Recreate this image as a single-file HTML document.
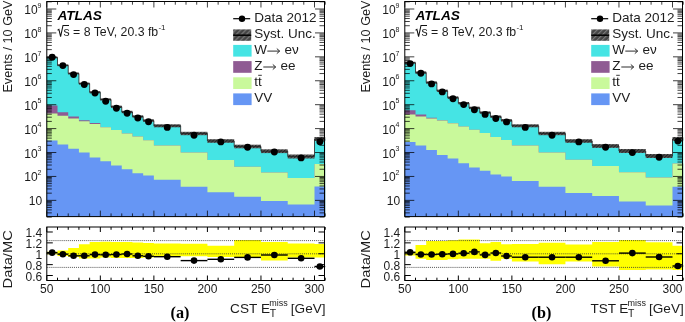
<!DOCTYPE html>
<html><head><meta charset="utf-8"><style>
html,body{margin:0;padding:0;background:#fff;}
svg{display:block;filter:blur(0.3px);}
text{font-family:"Liberation Sans",sans-serif;fill:#1c1c1c;}
.lab{font-size:12px;}
.sup{font-size:7px;}
.tit{font-size:13.6px;}
.ytit{font-size:12.65px;}
.rtit{font-size:14.8px;}
.ss{font-size:9px;}
.ssT{font-size:10.4px;}
.ss2{font-size:8px;}
.leg{font-size:13.5px;}
.leg2{font-size:12.3px;}
.atl{font-size:13.7px;font-weight:bold;font-style:italic;fill:#000;}
.pl{font-family:"Liberation Serif",serif;font-size:16.2px;font-weight:bold;fill:#000;}
</style></head><body>
<svg width="685" height="322" viewBox="0 0 685 322">
<defs>
<pattern id="hatch" patternUnits="userSpaceOnUse" width="2.4" height="2.4" patternTransform="rotate(-45)">
<rect width="2.4" height="2.4" fill="#666"/><rect width="2.4" height="1.1" fill="#2a2a2a"/>
</pattern>
<pattern id="hatchW" patternUnits="userSpaceOnUse" width="3" height="3" patternTransform="rotate(-45)">
<rect width="3" height="3" fill="#8a8a8a"/><rect width="3" height="1.1" fill="#3a3a3a"/>
</pattern>
<pattern id="hatchL" patternUnits="userSpaceOnUse" width="3.6" height="3.6" patternTransform="rotate(-45)">
<rect width="3.6" height="3.6" fill="#444"/><rect width="3.6" height="1.2" fill="#7a7a7a"/>
</pattern>
</defs>
<rect width="685" height="322" fill="#fff"/>
<polygon points="46.8,216.6 46.8,57.5 57.51,57.5 57.51,65.3 68.22,65.3 68.22,73.5 78.92,73.5 78.92,83.6 89.63,83.6 89.63,92.3 100.34,92.3 100.34,99.5 111.05,99.5 111.05,106.8 121.76,106.8 121.76,112 132.46,112 132.46,116.5 143.17,116.5 143.17,120.6 153.88,120.6 153.88,125.8 180.65,125.8 180.65,133.5 207.42,133.5 207.42,141 234.19,141 234.19,146.5 260.96,146.5 260.96,151.2 287.73,151.2 287.73,156.5 314.5,156.5 314.5,139 325.21,139 325.21,216.6" fill="#45e4e4"/>
<polygon points="46.8,216.6 46.8,105.5 57.51,105.5 57.51,112.2 68.22,112.2 68.22,116.6 78.92,116.6 78.92,120.2 89.63,120.2 89.63,123.1 100.34,123.1 100.34,127.2 111.05,127.2 111.05,129.9 121.76,129.9 121.76,133.6 132.46,133.6 132.46,136.4 143.17,136.4 143.17,140.2 153.88,140.2 153.88,145.6 180.65,145.6 180.65,152.5 207.42,152.5 207.42,159.9 234.19,159.9 234.19,166.8 260.96,166.8 260.96,172.4 287.73,172.4 287.73,178 314.5,178 314.5,164 325.21,164 325.21,216.6" fill="#8f5b93"/>
<polygon points="46.8,216.6 46.8,113.6 57.51,113.6 57.51,115.8 68.22,115.8 68.22,118.4 78.92,118.4 78.92,121.2 89.63,121.2 89.63,124 100.34,124 100.34,127.2 111.05,127.2 111.05,129.9 121.76,129.9 121.76,133.6 132.46,133.6 132.46,136.4 143.17,136.4 143.17,140.2 153.88,140.2 153.88,145.6 180.65,145.6 180.65,152.5 207.42,152.5 207.42,159.9 234.19,159.9 234.19,166.8 260.96,166.8 260.96,172.4 287.73,172.4 287.73,178 314.5,178 314.5,164 325.21,164 325.21,216.6" fill="#c9f99b"/>
<polygon points="46.8,216.6 46.8,140.6 57.51,140.6 57.51,144.4 68.22,144.4 68.22,148.7 78.92,148.7 78.92,152.6 89.63,152.6 89.63,157.6 100.34,157.6 100.34,161.3 111.05,161.3 111.05,165.5 121.76,165.5 121.76,169.2 132.46,169.2 132.46,173.2 143.17,173.2 143.17,175.6 153.88,175.6 153.88,179.8 180.65,179.8 180.65,186.8 207.42,186.8 207.42,192.3 234.19,192.3 234.19,196.8 260.96,196.8 260.96,201 287.73,201 287.73,204.6 314.5,204.6 314.5,186.6 325.21,186.6 325.21,216.6" fill="#6696f4"/>
<rect x="46.8" y="56.6" width="10.71" height="1.8" fill="url(#hatch)"/>
<rect x="57.51" y="64.4" width="10.71" height="1.8" fill="url(#hatch)"/>
<rect x="68.22" y="72.5" width="10.71" height="2" fill="url(#hatch)"/>
<rect x="78.92" y="82.6" width="10.71" height="2" fill="url(#hatch)"/>
<rect x="89.63" y="91.2" width="10.71" height="2.2" fill="url(#hatch)"/>
<rect x="100.34" y="98.4" width="10.71" height="2.2" fill="url(#hatch)"/>
<rect x="111.05" y="105.6" width="10.71" height="2.4" fill="url(#hatch)"/>
<rect x="121.76" y="110.8" width="10.71" height="2.4" fill="url(#hatch)"/>
<rect x="132.46" y="115.3" width="10.71" height="2.4" fill="url(#hatch)"/>
<rect x="143.17" y="119.3" width="10.71" height="2.6" fill="url(#hatch)"/>
<rect x="153.88" y="124.3" width="26.77" height="3" fill="url(#hatch)"/>
<rect x="180.65" y="131.8" width="26.77" height="3.4" fill="url(#hatch)"/>
<rect x="207.42" y="139.2" width="26.77" height="3.6" fill="url(#hatch)"/>
<rect x="234.19" y="144.7" width="26.77" height="3.6" fill="url(#hatch)"/>
<rect x="260.96" y="149.3" width="26.77" height="3.8" fill="url(#hatch)"/>
<rect x="287.73" y="154.5" width="26.77" height="4" fill="url(#hatch)"/>
<rect x="314.5" y="137" width="10.71" height="4" fill="url(#hatch)"/>
<polyline points="46.8,57.5 57.51,57.5 57.51,65.3 68.22,65.3 68.22,73.5 78.92,73.5 78.92,83.6 89.63,83.6 89.63,92.3 100.34,92.3 100.34,99.5 111.05,99.5 111.05,106.8 121.76,106.8 121.76,112 132.46,112 132.46,116.5 143.17,116.5 143.17,120.6 153.88,120.6 153.88,125.8 180.65,125.8 180.65,133.5 207.42,133.5 207.42,141 234.19,141 234.19,146.5 260.96,146.5 260.96,151.2 287.73,151.2 287.73,156.5 314.5,156.5 314.5,139 325.21,139" fill="none" stroke="#222" stroke-width="0.8"/>
<circle cx="52.15" cy="57.3" r="3.45" fill="#000"/>
<circle cx="62.86" cy="65.6" r="3.45" fill="#000"/>
<circle cx="73.57" cy="74.6" r="3.45" fill="#000"/>
<circle cx="84.28" cy="84.5" r="3.45" fill="#000"/>
<circle cx="94.99" cy="93" r="3.45" fill="#000"/>
<circle cx="105.69" cy="101.3" r="3.45" fill="#000"/>
<circle cx="116.4" cy="108.2" r="3.45" fill="#000"/>
<circle cx="127.11" cy="113.2" r="3.45" fill="#000"/>
<circle cx="137.82" cy="118" r="3.45" fill="#000"/>
<circle cx="148.53" cy="121.8" r="3.45" fill="#000"/>
<circle cx="167.26" cy="127.4" r="3.45" fill="#000"/>
<circle cx="194.03" cy="135.2" r="3.45" fill="#000"/>
<circle cx="220.81" cy="141.9" r="3.45" fill="#000"/>
<circle cx="247.57" cy="147.3" r="3.45" fill="#000"/>
<circle cx="274.35" cy="152" r="3.45" fill="#000"/>
<circle cx="301.12" cy="157.9" r="3.45" fill="#000"/>
<circle cx="319.85" cy="141.7" r="3.45" fill="#000"/>
<rect x="46.8" y="1.5" width="277.7" height="215.1" fill="none" stroke="#000" stroke-width="1"/>
<path d="M46.8 216.6v-6M46.8 1.5v6M57.51 216.6v-3.2M57.51 1.5v3.2M68.22 216.6v-3.2M68.22 1.5v3.2M78.92 216.6v-3.2M78.92 1.5v3.2M89.63 216.6v-3.2M89.63 1.5v3.2M100.34 216.6v-6M100.34 1.5v6M111.05 216.6v-3.2M111.05 1.5v3.2M121.76 216.6v-3.2M121.76 1.5v3.2M132.46 216.6v-3.2M132.46 1.5v3.2M143.17 216.6v-3.2M143.17 1.5v3.2M153.88 216.6v-6M153.88 1.5v6M164.59 216.6v-3.2M164.59 1.5v3.2M175.3 216.6v-3.2M175.3 1.5v3.2M186 216.6v-3.2M186 1.5v3.2M196.71 216.6v-3.2M196.71 1.5v3.2M207.42 216.6v-6M207.42 1.5v6M218.13 216.6v-3.2M218.13 1.5v3.2M228.84 216.6v-3.2M228.84 1.5v3.2M239.54 216.6v-3.2M239.54 1.5v3.2M250.25 216.6v-3.2M250.25 1.5v3.2M260.96 216.6v-6M260.96 1.5v6M271.67 216.6v-3.2M271.67 1.5v3.2M282.38 216.6v-3.2M282.38 1.5v3.2M293.08 216.6v-3.2M293.08 1.5v3.2M303.79 216.6v-3.2M303.79 1.5v3.2M314.5 216.6v-6M314.5 1.5v6M325.21 216.6v-3.2M325.21 1.5v3.2M46.8 217.08h5M324.5 217.08h-5M46.8 212.87h5M324.5 212.87h-5M46.8 209.88h5M324.5 209.88h-5M46.8 207.56h5M324.5 207.56h-5M46.8 205.67h5M324.5 205.67h-5M46.8 204.07h5M324.5 204.07h-5M46.8 202.68h5M324.5 202.68h-5M46.8 201.45h5M324.5 201.45h-5M46.8 200.36h9.5M324.5 200.36h-9.5M46.8 193.16h5M324.5 193.16h-5M46.8 188.95h5M324.5 188.95h-5M46.8 185.96h5M324.5 185.96h-5M46.8 183.64h5M324.5 183.64h-5M46.8 181.75h5M324.5 181.75h-5M46.8 180.15h5M324.5 180.15h-5M46.8 178.76h5M324.5 178.76h-5M46.8 177.53h5M324.5 177.53h-5M46.8 176.44h9.5M324.5 176.44h-9.5M46.8 169.24h5M324.5 169.24h-5M46.8 165.03h5M324.5 165.03h-5M46.8 162.04h5M324.5 162.04h-5M46.8 159.72h5M324.5 159.72h-5M46.8 157.83h5M324.5 157.83h-5M46.8 156.23h5M324.5 156.23h-5M46.8 154.84h5M324.5 154.84h-5M46.8 153.61h5M324.5 153.61h-5M46.8 152.52h9.5M324.5 152.52h-9.5M46.8 145.32h5M324.5 145.32h-5M46.8 141.11h5M324.5 141.11h-5M46.8 138.12h5M324.5 138.12h-5M46.8 135.8h5M324.5 135.8h-5M46.8 133.91h5M324.5 133.91h-5M46.8 132.31h5M324.5 132.31h-5M46.8 130.92h5M324.5 130.92h-5M46.8 129.69h5M324.5 129.69h-5M46.8 128.6h9.5M324.5 128.6h-9.5M46.8 121.4h5M324.5 121.4h-5M46.8 117.19h5M324.5 117.19h-5M46.8 114.2h5M324.5 114.2h-5M46.8 111.88h5M324.5 111.88h-5M46.8 109.99h5M324.5 109.99h-5M46.8 108.39h5M324.5 108.39h-5M46.8 107h5M324.5 107h-5M46.8 105.77h5M324.5 105.77h-5M46.8 104.68h9.5M324.5 104.68h-9.5M46.8 97.48h5M324.5 97.48h-5M46.8 93.27h5M324.5 93.27h-5M46.8 90.28h5M324.5 90.28h-5M46.8 87.96h5M324.5 87.96h-5M46.8 86.07h5M324.5 86.07h-5M46.8 84.47h5M324.5 84.47h-5M46.8 83.08h5M324.5 83.08h-5M46.8 81.85h5M324.5 81.85h-5M46.8 80.76h9.5M324.5 80.76h-9.5M46.8 73.56h5M324.5 73.56h-5M46.8 69.35h5M324.5 69.35h-5M46.8 66.36h5M324.5 66.36h-5M46.8 64.04h5M324.5 64.04h-5M46.8 62.15h5M324.5 62.15h-5M46.8 60.55h5M324.5 60.55h-5M46.8 59.16h5M324.5 59.16h-5M46.8 57.93h5M324.5 57.93h-5M46.8 56.84h9.5M324.5 56.84h-9.5M46.8 49.64h5M324.5 49.64h-5M46.8 45.43h5M324.5 45.43h-5M46.8 42.44h5M324.5 42.44h-5M46.8 40.12h5M324.5 40.12h-5M46.8 38.23h5M324.5 38.23h-5M46.8 36.63h5M324.5 36.63h-5M46.8 35.24h5M324.5 35.24h-5M46.8 34.01h5M324.5 34.01h-5M46.8 32.92h9.5M324.5 32.92h-9.5M46.8 25.72h5M324.5 25.72h-5M46.8 21.51h5M324.5 21.51h-5M46.8 18.52h5M324.5 18.52h-5M46.8 16.2h5M324.5 16.2h-5M46.8 14.31h5M324.5 14.31h-5M46.8 12.71h5M324.5 12.71h-5M46.8 11.32h5M324.5 11.32h-5M46.8 10.09h5M324.5 10.09h-5M46.8 9h9.5M324.5 9h-9.5M46.8 1.8h5M324.5 1.8h-5" stroke="#000" stroke-width="0.75" fill="none"/>
<polygon points="46.8,251.8 57.51,251.8 57.51,250.4 68.22,250.4 68.22,247.9 78.92,247.9 78.92,244.2 89.63,244.2 89.63,242 100.34,242 100.34,241.8 111.05,241.8 111.05,242 121.76,242 121.76,242 132.46,242 132.46,242.5 143.17,242.5 143.17,243 153.88,243 153.88,243.6 180.65,243.6 180.65,243.8 207.42,243.8 207.42,245.8 234.19,245.8 234.19,240.1 260.96,240.1 260.96,241.9 287.73,241.9 287.73,243.6 314.5,243.6 314.5,244.1 325.21,244.1 325.21,257.6 314.5,257.6 314.5,257.6 287.73,257.6 287.73,260.6 260.96,260.6 260.96,257 234.19,257 234.19,257 207.42,257 207.42,256.3 180.65,256.3 180.65,256.3 153.88,256.3 153.88,257.6 143.17,257.6 143.17,257.9 132.46,257.9 132.46,257.9 121.76,257.9 121.76,257.9 111.05,257.9 111.05,257.6 100.34,257.6 100.34,258.4 89.63,258.4 89.63,258.4 78.92,258.4 78.92,257 68.22,257 68.22,256 57.51,256 57.51,254.2 46.8,254.2" fill="#ffff00"/>
<line x1="46.8" y1="240.6" x2="324.5" y2="240.6" stroke="#333" stroke-width="0.9" stroke-dasharray="0.9 1.05"/>
<line x1="46.8" y1="253.8" x2="324.5" y2="253.8" stroke="#333" stroke-width="0.9" stroke-dasharray="0.9 1.05"/>
<line x1="46.8" y1="267.4" x2="324.5" y2="267.4" stroke="#333" stroke-width="0.9" stroke-dasharray="0.9 1.05"/>
<line x1="46.8" y1="252.6" x2="57.51" y2="252.6" stroke="#000" stroke-width="1.4"/>
<circle cx="52.15" cy="252.6" r="3.3" fill="#000"/>
<line x1="57.51" y1="254.2" x2="68.22" y2="254.2" stroke="#000" stroke-width="1.4"/>
<circle cx="62.86" cy="254.2" r="3.3" fill="#000"/>
<line x1="68.22" y1="255.8" x2="78.92" y2="255.8" stroke="#000" stroke-width="1.4"/>
<circle cx="73.57" cy="255.8" r="3.3" fill="#000"/>
<line x1="78.92" y1="255.8" x2="89.63" y2="255.8" stroke="#000" stroke-width="1.4"/>
<circle cx="84.28" cy="255.8" r="3.3" fill="#000"/>
<line x1="89.63" y1="254.6" x2="100.34" y2="254.6" stroke="#000" stroke-width="1.4"/>
<circle cx="94.99" cy="254.6" r="3.3" fill="#000"/>
<line x1="100.34" y1="254.8" x2="111.05" y2="254.8" stroke="#000" stroke-width="1.4"/>
<circle cx="105.69" cy="254.8" r="3.3" fill="#000"/>
<line x1="111.05" y1="254.5" x2="121.76" y2="254.5" stroke="#000" stroke-width="1.4"/>
<circle cx="116.4" cy="254.5" r="3.3" fill="#000"/>
<line x1="121.76" y1="254" x2="132.46" y2="254" stroke="#000" stroke-width="1.4"/>
<circle cx="127.11" cy="254" r="3.3" fill="#000"/>
<line x1="132.46" y1="255.8" x2="143.17" y2="255.8" stroke="#000" stroke-width="1.4"/>
<circle cx="137.82" cy="255.8" r="3.3" fill="#000"/>
<line x1="143.17" y1="256.3" x2="153.88" y2="256.3" stroke="#000" stroke-width="1.4"/>
<circle cx="148.53" cy="256.3" r="3.3" fill="#000"/>
<line x1="153.88" y1="256.7" x2="180.65" y2="256.7" stroke="#000" stroke-width="1.4"/>
<circle cx="167.26" cy="256.7" r="3.3" fill="#000"/>
<line x1="180.65" y1="260.6" x2="207.42" y2="260.6" stroke="#000" stroke-width="1.4"/>
<circle cx="194.03" cy="260.6" r="3.3" fill="#000"/>
<line x1="207.42" y1="259.3" x2="234.19" y2="259.3" stroke="#000" stroke-width="1.4"/>
<circle cx="220.81" cy="259.3" r="3.3" fill="#000"/>
<line x1="234.19" y1="257.4" x2="260.96" y2="257.4" stroke="#000" stroke-width="1.4"/>
<circle cx="247.57" cy="257.4" r="3.3" fill="#000"/>
<line x1="260.96" y1="255" x2="287.73" y2="255" stroke="#000" stroke-width="1.4"/>
<circle cx="274.35" cy="255" r="3.3" fill="#000"/>
<line x1="287.73" y1="258.3" x2="314.5" y2="258.3" stroke="#000" stroke-width="1.4"/>
<circle cx="301.12" cy="258.3" r="3.3" fill="#000"/>
<line x1="314.5" y1="266.5" x2="325.21" y2="266.5" stroke="#000" stroke-width="1.4"/>
<circle cx="319.85" cy="266.5" r="3.3" fill="#000"/>
<path d="M46.8 280.5v-5M46.8 227v5M57.51 280.5v-2.8M57.51 227v2.8M68.22 280.5v-2.8M68.22 227v2.8M78.92 280.5v-2.8M78.92 227v2.8M89.63 280.5v-2.8M89.63 227v2.8M100.34 280.5v-5M100.34 227v5M111.05 280.5v-2.8M111.05 227v2.8M121.76 280.5v-2.8M121.76 227v2.8M132.46 280.5v-2.8M132.46 227v2.8M143.17 280.5v-2.8M143.17 227v2.8M153.88 280.5v-5M153.88 227v5M164.59 280.5v-2.8M164.59 227v2.8M175.3 280.5v-2.8M175.3 227v2.8M186 280.5v-2.8M186 227v2.8M196.71 280.5v-2.8M196.71 227v2.8M207.42 280.5v-5M207.42 227v5M218.13 280.5v-2.8M218.13 227v2.8M228.84 280.5v-2.8M228.84 227v2.8M239.54 280.5v-2.8M239.54 227v2.8M250.25 280.5v-2.8M250.25 227v2.8M260.96 280.5v-5M260.96 227v5M271.67 280.5v-2.8M271.67 227v2.8M282.38 280.5v-2.8M282.38 227v2.8M293.08 280.5v-2.8M293.08 227v2.8M303.79 280.5v-2.8M303.79 227v2.8M314.5 280.5v-5M314.5 227v5M325.21 280.5v-2.8M325.21 227v2.8M46.8 275.51h6M324.5 275.51h-6M46.8 264.63h6M324.5 264.63h-6M46.8 253.75h6M324.5 253.75h-6M46.8 242.87h6M324.5 242.87h-6M46.8 231.99h6M324.5 231.99h-6" stroke="#000" stroke-width="1" fill="none"/>
<rect x="46.8" y="227" width="277.7" height="53.5" fill="none" stroke="#000" stroke-width="1"/>
<text x="42.2" y="204.96" text-anchor="end" class="lab">10</text>
<text x="37.6" y="181.44" text-anchor="end" class="lab">10</text>
<text x="37.5" y="175.14" class="sup">2</text>
<text x="37.6" y="157.52" text-anchor="end" class="lab">10</text>
<text x="37.5" y="151.22" class="sup">3</text>
<text x="37.6" y="133.6" text-anchor="end" class="lab">10</text>
<text x="37.5" y="127.3" class="sup">4</text>
<text x="37.6" y="109.68" text-anchor="end" class="lab">10</text>
<text x="37.5" y="103.38" class="sup">5</text>
<text x="37.6" y="85.76" text-anchor="end" class="lab">10</text>
<text x="37.5" y="79.46" class="sup">6</text>
<text x="37.6" y="61.84" text-anchor="end" class="lab">10</text>
<text x="37.5" y="55.54" class="sup">7</text>
<text x="37.6" y="37.92" text-anchor="end" class="lab">10</text>
<text x="37.5" y="31.62" class="sup">8</text>
<text x="37.6" y="14" text-anchor="end" class="lab">10</text>
<text x="37.5" y="7.7" class="sup">9</text>
<text x="42.2" y="236.99" text-anchor="end" class="lab">1.4</text>
<text x="42.2" y="247.87" text-anchor="end" class="lab">1.2</text>
<text x="42.2" y="258.75" text-anchor="end" class="lab">1</text>
<text x="42.2" y="269.63" text-anchor="end" class="lab">0.8</text>
<text x="42.2" y="280.51" text-anchor="end" class="lab">0.6</text>
<text x="46.8" y="293" text-anchor="middle" class="lab">50</text>
<text x="100.34" y="293" text-anchor="middle" class="lab">100</text>
<text x="153.88" y="293" text-anchor="middle" class="lab">150</text>
<text x="207.42" y="293" text-anchor="middle" class="lab">200</text>
<text x="260.96" y="293" text-anchor="middle" class="lab">250</text>
<text x="314.5" y="293" text-anchor="middle" class="lab">300</text>
<text transform="translate(11.7,92.6) rotate(-90)" class="ytit">Events / 10 GeV</text>
<text transform="translate(12.3,288.4) rotate(-90) scale(1,0.92)" class="rtit">Data/MC</text>
<text x="230.1" y="312.5" class="tit">CST</text>
<text x="261" y="312.5" class="tit">E</text>
<text x="269.8" y="316.6" class="ssT">T</text>
<text x="269.3" y="306.0" class="ss">miss</text>
<text x="290.8" y="312.5" class="tit">[GeV]</text>
<text x="170.6" y="317.5" class="pl">(a)</text>
<text x="57.4" y="19.8" class="atl">ATLAS</text>
<path d="M57.6 30.2 L58.9 29.4 L60.6 36.6 L63 25.4 L69 25.4" fill="none" stroke="#111" stroke-width="1.05" stroke-linejoin="miter"/>
<text x="63.5" y="36.2" class="leg2">s = 8 TeV, 20.3 fb</text>
<text x="158.4" y="30.0" class="ss2">-1</text>
<line x1="233.2" y1="18.7" x2="250.2" y2="18.7" stroke="#000" stroke-width="1.2"/>
<circle cx="242" cy="18.7" r="3.2" fill="#000"/>
<rect x="233.2" y="29.4" width="18" height="11.4" fill="url(#hatchL)"/>
<line x1="233.2" y1="35.2" x2="251.2" y2="35.2" stroke="#000" stroke-width="1.5"/>
<rect x="233.2" y="44.9" width="18.4" height="11.7" fill="#45e4e4"/>
<rect x="233.2" y="61.1" width="18.4" height="11.7" fill="#8f5b93"/>
<rect x="233.2" y="77.3" width="18.4" height="11.7" fill="#c9f99b"/>
<rect x="233.2" y="93.4" width="18.4" height="11.7" fill="#6696f4"/>
<text x="254.2" y="22.2" class="leg">Data 2012</text>
<text x="254.2" y="38.2" class="leg">Syst. Unc.</text>
<text x="254.2" y="54.3" class="leg">W</text>
<path d="M267.3 51.1 h12.2 M276.8 48.6 l2.9 2.5 l-2.9 2.5" fill="none" stroke="#222" stroke-width="0.95"/>
<text x="284.4" y="54.3" class="leg">e&#957;</text>
<text x="254.2" y="70.3" class="leg">Z</text>
<path d="M263.3 67.0 h12.2 M272.8 64.5 l2.9 2.5 l-2.9 2.5" fill="none" stroke="#222" stroke-width="0.95"/>
<text x="280.4" y="70.3" class="leg">ee</text>
<text x="254.2" y="86.4" class="leg">tt</text>
<path d="M258.2 75.3 h3.6" stroke="#222" stroke-width="0.9"/>
<text x="254.2" y="102.0" class="leg">VV</text>
<polygon points="404.8,216.6 404.8,62.8 415.51,62.8 415.51,72.6 426.22,72.6 426.22,82.6 436.92,82.6 436.92,90.8 447.63,90.8 447.63,97.6 458.34,97.6 458.34,103.2 469.05,103.2 469.05,107.9 479.76,107.9 479.76,112.6 490.46,112.6 490.46,116.7 501.17,116.7 501.17,120.4 511.88,120.4 511.88,125.8 538.65,125.8 538.65,133.5 565.42,133.5 565.42,141 592.19,141 592.19,146 618.96,146 618.96,151 645.73,151 645.73,156 672.5,156 672.5,139 683.21,139 683.21,216.6" fill="#45e4e4"/>
<polygon points="404.8,216.6 404.8,110.2 415.51,110.2 415.51,114.5 426.22,114.5 426.22,117.7 436.92,117.7 436.92,120.3 447.63,120.3 447.63,123.1 458.34,123.1 458.34,126.4 469.05,126.4 469.05,129.7 479.76,129.7 479.76,133 490.46,133 490.46,137 501.17,137 501.17,139.9 511.88,139.9 511.88,145.4 538.65,145.4 538.65,152.4 565.42,152.4 565.42,159.8 592.19,159.8 592.19,166 618.96,166 618.96,172.2 645.73,172.2 645.73,177.5 672.5,177.5 672.5,163.5 683.21,163.5 683.21,216.6" fill="#8f5b93"/>
<polygon points="404.8,216.6 404.8,114.5 415.51,114.5 415.51,116.4 426.22,116.4 426.22,118.6 436.92,118.6 436.92,120.5 447.63,120.5 447.63,123.3 458.34,123.3 458.34,126.4 469.05,126.4 469.05,129.7 479.76,129.7 479.76,133 490.46,133 490.46,137 501.17,137 501.17,139.9 511.88,139.9 511.88,145.4 538.65,145.4 538.65,152.4 565.42,152.4 565.42,159.8 592.19,159.8 592.19,166 618.96,166 618.96,172.2 645.73,172.2 645.73,177.5 672.5,177.5 672.5,163.5 683.21,163.5 683.21,216.6" fill="#c9f99b"/>
<polygon points="404.8,216.6 404.8,141.9 415.51,141.9 415.51,145.6 426.22,145.6 426.22,149.9 436.92,149.9 436.92,155 447.63,155 447.63,158.6 458.34,158.6 458.34,163.3 469.05,163.3 469.05,167.6 479.76,167.6 479.76,170.7 490.46,170.7 490.46,174.5 501.17,174.5 501.17,176.5 511.88,176.5 511.88,181 538.65,181 538.65,186.8 565.42,186.8 565.42,193 592.19,193 592.19,196 618.96,196 618.96,201.4 645.73,201.4 645.73,205.4 672.5,205.4 672.5,186.8 683.21,186.8 683.21,216.6" fill="#6696f4"/>
<rect x="404.8" y="61.8" width="10.71" height="2" fill="url(#hatch)"/>
<rect x="415.51" y="71.4" width="10.71" height="2.4" fill="url(#hatch)"/>
<rect x="426.22" y="81.4" width="10.71" height="2.4" fill="url(#hatch)"/>
<rect x="436.92" y="89.6" width="10.71" height="2.4" fill="url(#hatch)"/>
<rect x="447.63" y="96.4" width="10.71" height="2.4" fill="url(#hatch)"/>
<rect x="458.34" y="102" width="10.71" height="2.4" fill="url(#hatch)"/>
<rect x="469.05" y="106.7" width="10.71" height="2.4" fill="url(#hatch)"/>
<rect x="479.76" y="111.4" width="10.71" height="2.4" fill="url(#hatch)"/>
<rect x="490.46" y="115.5" width="10.71" height="2.4" fill="url(#hatch)"/>
<rect x="501.17" y="119.1" width="10.71" height="2.6" fill="url(#hatch)"/>
<rect x="511.88" y="124.3" width="26.77" height="3" fill="url(#hatch)"/>
<rect x="538.65" y="131.8" width="26.77" height="3.4" fill="url(#hatch)"/>
<rect x="565.42" y="139.2" width="26.77" height="3.6" fill="url(#hatch)"/>
<rect x="592.19" y="144.1" width="26.77" height="3.8" fill="url(#hatch)"/>
<rect x="618.96" y="149" width="26.77" height="4" fill="url(#hatch)"/>
<rect x="645.73" y="154" width="26.77" height="4" fill="url(#hatch)"/>
<rect x="672.5" y="137" width="10.71" height="4" fill="url(#hatch)"/>
<polyline points="404.8,62.8 415.51,62.8 415.51,72.6 426.22,72.6 426.22,82.6 436.92,82.6 436.92,90.8 447.63,90.8 447.63,97.6 458.34,97.6 458.34,103.2 469.05,103.2 469.05,107.9 479.76,107.9 479.76,112.6 490.46,112.6 490.46,116.7 501.17,116.7 501.17,120.4 511.88,120.4 511.88,125.8 538.65,125.8 538.65,133.5 565.42,133.5 565.42,141 592.19,141 592.19,146 618.96,146 618.96,151 645.73,151 645.73,156 672.5,156 672.5,139 683.21,139" fill="none" stroke="#222" stroke-width="0.8"/>
<circle cx="410.15" cy="63.6" r="3.45" fill="#000"/>
<circle cx="420.86" cy="73.3" r="3.45" fill="#000"/>
<circle cx="431.57" cy="83.9" r="3.45" fill="#000"/>
<circle cx="442.28" cy="91.9" r="3.45" fill="#000"/>
<circle cx="452.99" cy="98.8" r="3.45" fill="#000"/>
<circle cx="463.69" cy="104.6" r="3.45" fill="#000"/>
<circle cx="474.4" cy="109.8" r="3.45" fill="#000"/>
<circle cx="485.11" cy="114.4" r="3.45" fill="#000"/>
<circle cx="495.82" cy="118.5" r="3.45" fill="#000"/>
<circle cx="506.53" cy="121.9" r="3.45" fill="#000"/>
<circle cx="525.26" cy="127.4" r="3.45" fill="#000"/>
<circle cx="552.03" cy="135.2" r="3.45" fill="#000"/>
<circle cx="578.81" cy="141.9" r="3.45" fill="#000"/>
<circle cx="605.58" cy="147.3" r="3.45" fill="#000"/>
<circle cx="632.35" cy="152.6" r="3.45" fill="#000"/>
<circle cx="659.12" cy="157.3" r="3.45" fill="#000"/>
<circle cx="677.85" cy="141.1" r="3.45" fill="#000"/>
<rect x="404.8" y="1.5" width="277.7" height="215.1" fill="none" stroke="#000" stroke-width="1"/>
<path d="M404.8 216.6v-6M404.8 1.5v6M415.51 216.6v-3.2M415.51 1.5v3.2M426.22 216.6v-3.2M426.22 1.5v3.2M436.92 216.6v-3.2M436.92 1.5v3.2M447.63 216.6v-3.2M447.63 1.5v3.2M458.34 216.6v-6M458.34 1.5v6M469.05 216.6v-3.2M469.05 1.5v3.2M479.76 216.6v-3.2M479.76 1.5v3.2M490.46 216.6v-3.2M490.46 1.5v3.2M501.17 216.6v-3.2M501.17 1.5v3.2M511.88 216.6v-6M511.88 1.5v6M522.59 216.6v-3.2M522.59 1.5v3.2M533.3 216.6v-3.2M533.3 1.5v3.2M544 216.6v-3.2M544 1.5v3.2M554.71 216.6v-3.2M554.71 1.5v3.2M565.42 216.6v-6M565.42 1.5v6M576.13 216.6v-3.2M576.13 1.5v3.2M586.84 216.6v-3.2M586.84 1.5v3.2M597.54 216.6v-3.2M597.54 1.5v3.2M608.25 216.6v-3.2M608.25 1.5v3.2M618.96 216.6v-6M618.96 1.5v6M629.67 216.6v-3.2M629.67 1.5v3.2M640.38 216.6v-3.2M640.38 1.5v3.2M651.08 216.6v-3.2M651.08 1.5v3.2M661.79 216.6v-3.2M661.79 1.5v3.2M672.5 216.6v-6M672.5 1.5v6M683.21 216.6v-3.2M683.21 1.5v3.2M404.8 217.08h5M682.5 217.08h-5M404.8 212.87h5M682.5 212.87h-5M404.8 209.88h5M682.5 209.88h-5M404.8 207.56h5M682.5 207.56h-5M404.8 205.67h5M682.5 205.67h-5M404.8 204.07h5M682.5 204.07h-5M404.8 202.68h5M682.5 202.68h-5M404.8 201.45h5M682.5 201.45h-5M404.8 200.36h9.5M682.5 200.36h-9.5M404.8 193.16h5M682.5 193.16h-5M404.8 188.95h5M682.5 188.95h-5M404.8 185.96h5M682.5 185.96h-5M404.8 183.64h5M682.5 183.64h-5M404.8 181.75h5M682.5 181.75h-5M404.8 180.15h5M682.5 180.15h-5M404.8 178.76h5M682.5 178.76h-5M404.8 177.53h5M682.5 177.53h-5M404.8 176.44h9.5M682.5 176.44h-9.5M404.8 169.24h5M682.5 169.24h-5M404.8 165.03h5M682.5 165.03h-5M404.8 162.04h5M682.5 162.04h-5M404.8 159.72h5M682.5 159.72h-5M404.8 157.83h5M682.5 157.83h-5M404.8 156.23h5M682.5 156.23h-5M404.8 154.84h5M682.5 154.84h-5M404.8 153.61h5M682.5 153.61h-5M404.8 152.52h9.5M682.5 152.52h-9.5M404.8 145.32h5M682.5 145.32h-5M404.8 141.11h5M682.5 141.11h-5M404.8 138.12h5M682.5 138.12h-5M404.8 135.8h5M682.5 135.8h-5M404.8 133.91h5M682.5 133.91h-5M404.8 132.31h5M682.5 132.31h-5M404.8 130.92h5M682.5 130.92h-5M404.8 129.69h5M682.5 129.69h-5M404.8 128.6h9.5M682.5 128.6h-9.5M404.8 121.4h5M682.5 121.4h-5M404.8 117.19h5M682.5 117.19h-5M404.8 114.2h5M682.5 114.2h-5M404.8 111.88h5M682.5 111.88h-5M404.8 109.99h5M682.5 109.99h-5M404.8 108.39h5M682.5 108.39h-5M404.8 107h5M682.5 107h-5M404.8 105.77h5M682.5 105.77h-5M404.8 104.68h9.5M682.5 104.68h-9.5M404.8 97.48h5M682.5 97.48h-5M404.8 93.27h5M682.5 93.27h-5M404.8 90.28h5M682.5 90.28h-5M404.8 87.96h5M682.5 87.96h-5M404.8 86.07h5M682.5 86.07h-5M404.8 84.47h5M682.5 84.47h-5M404.8 83.08h5M682.5 83.08h-5M404.8 81.85h5M682.5 81.85h-5M404.8 80.76h9.5M682.5 80.76h-9.5M404.8 73.56h5M682.5 73.56h-5M404.8 69.35h5M682.5 69.35h-5M404.8 66.36h5M682.5 66.36h-5M404.8 64.04h5M682.5 64.04h-5M404.8 62.15h5M682.5 62.15h-5M404.8 60.55h5M682.5 60.55h-5M404.8 59.16h5M682.5 59.16h-5M404.8 57.93h5M682.5 57.93h-5M404.8 56.84h9.5M682.5 56.84h-9.5M404.8 49.64h5M682.5 49.64h-5M404.8 45.43h5M682.5 45.43h-5M404.8 42.44h5M682.5 42.44h-5M404.8 40.12h5M682.5 40.12h-5M404.8 38.23h5M682.5 38.23h-5M404.8 36.63h5M682.5 36.63h-5M404.8 35.24h5M682.5 35.24h-5M404.8 34.01h5M682.5 34.01h-5M404.8 32.92h9.5M682.5 32.92h-9.5M404.8 25.72h5M682.5 25.72h-5M404.8 21.51h5M682.5 21.51h-5M404.8 18.52h5M682.5 18.52h-5M404.8 16.2h5M682.5 16.2h-5M404.8 14.31h5M682.5 14.31h-5M404.8 12.71h5M682.5 12.71h-5M404.8 11.32h5M682.5 11.32h-5M404.8 10.09h5M682.5 10.09h-5M404.8 9h9.5M682.5 9h-9.5M404.8 1.8h5M682.5 1.8h-5" stroke="#000" stroke-width="0.75" fill="none"/>
<polygon points="404.8,251.8 415.51,251.8 415.51,245.1 426.22,245.1 426.22,241.1 436.92,241.1 436.92,241.1 447.63,241.1 447.63,240.2 458.34,240.2 458.34,239.6 469.05,239.6 469.05,239.6 479.76,239.6 479.76,243.2 490.46,243.2 490.46,242 501.17,242 501.17,244.3 511.88,244.3 511.88,244.1 538.65,244.1 538.65,242.8 565.42,242.8 565.42,244.5 592.19,244.5 592.19,242 618.96,242 618.96,240 645.73,240 645.73,242.3 672.5,242.3 672.5,245.7 683.21,245.7 683.21,270 672.5,270 672.5,269.6 645.73,269.6 645.73,270.1 618.96,270.1 618.96,266.6 592.19,266.6 592.19,261.6 565.42,261.6 565.42,264.2 538.65,264.2 538.65,261.6 511.88,261.6 511.88,258.8 501.17,258.8 501.17,260.8 490.46,260.8 490.46,258.8 479.76,258.8 479.76,258.8 469.05,258.8 469.05,258.8 458.34,258.8 458.34,259.3 447.63,259.3 447.63,260 436.92,260 436.92,260 426.22,260 426.22,258.8 415.51,258.8 415.51,255.6 404.8,255.6" fill="#ffff00"/>
<line x1="404.8" y1="240.6" x2="682.5" y2="240.6" stroke="#333" stroke-width="0.9" stroke-dasharray="0.9 1.05"/>
<line x1="404.8" y1="253.8" x2="682.5" y2="253.8" stroke="#333" stroke-width="0.9" stroke-dasharray="0.9 1.05"/>
<line x1="404.8" y1="267.4" x2="682.5" y2="267.4" stroke="#333" stroke-width="0.9" stroke-dasharray="0.9 1.05"/>
<line x1="404.8" y1="252.3" x2="415.51" y2="252.3" stroke="#000" stroke-width="1.4"/>
<circle cx="410.15" cy="252.3" r="3.3" fill="#000"/>
<line x1="415.51" y1="254.5" x2="426.22" y2="254.5" stroke="#000" stroke-width="1.4"/>
<circle cx="420.86" cy="254.5" r="3.3" fill="#000"/>
<line x1="426.22" y1="254.5" x2="436.92" y2="254.5" stroke="#000" stroke-width="1.4"/>
<circle cx="431.57" cy="254.5" r="3.3" fill="#000"/>
<line x1="436.92" y1="254.2" x2="447.63" y2="254.2" stroke="#000" stroke-width="1.4"/>
<circle cx="442.28" cy="254.2" r="3.3" fill="#000"/>
<line x1="447.63" y1="253.9" x2="458.34" y2="253.9" stroke="#000" stroke-width="1.4"/>
<circle cx="452.99" cy="253.9" r="3.3" fill="#000"/>
<line x1="458.34" y1="253.2" x2="469.05" y2="253.2" stroke="#000" stroke-width="1.4"/>
<circle cx="463.69" cy="253.2" r="3.3" fill="#000"/>
<line x1="469.05" y1="251.9" x2="479.76" y2="251.9" stroke="#000" stroke-width="1.4"/>
<circle cx="474.4" cy="251.9" r="3.3" fill="#000"/>
<line x1="479.76" y1="254.9" x2="490.46" y2="254.9" stroke="#000" stroke-width="1.4"/>
<circle cx="485.11" cy="254.9" r="3.3" fill="#000"/>
<line x1="490.46" y1="253" x2="501.17" y2="253" stroke="#000" stroke-width="1.4"/>
<circle cx="495.82" cy="253" r="3.3" fill="#000"/>
<line x1="501.17" y1="256" x2="511.88" y2="256" stroke="#000" stroke-width="1.4"/>
<circle cx="506.53" cy="256" r="3.3" fill="#000"/>
<line x1="511.88" y1="257.2" x2="538.65" y2="257.2" stroke="#000" stroke-width="1.4"/>
<circle cx="525.26" cy="257.2" r="3.3" fill="#000"/>
<line x1="538.65" y1="257.2" x2="565.42" y2="257.2" stroke="#000" stroke-width="1.4"/>
<circle cx="552.04" cy="257.2" r="3.3" fill="#000"/>
<line x1="565.42" y1="257.2" x2="592.19" y2="257.2" stroke="#000" stroke-width="1.4"/>
<circle cx="578.81" cy="257.2" r="3.3" fill="#000"/>
<line x1="592.19" y1="260.8" x2="618.96" y2="260.8" stroke="#000" stroke-width="1.4"/>
<circle cx="605.58" cy="260.8" r="3.3" fill="#000"/>
<line x1="618.96" y1="253.1" x2="645.73" y2="253.1" stroke="#000" stroke-width="1.4"/>
<circle cx="632.35" cy="253.1" r="3.3" fill="#000"/>
<line x1="645.73" y1="257" x2="672.5" y2="257" stroke="#000" stroke-width="1.4"/>
<circle cx="659.12" cy="257" r="3.3" fill="#000"/>
<line x1="672.5" y1="266" x2="683.21" y2="266" stroke="#000" stroke-width="1.4"/>
<circle cx="677.85" cy="266" r="3.3" fill="#000"/>
<path d="M404.8 280.5v-5M404.8 227v5M415.51 280.5v-2.8M415.51 227v2.8M426.22 280.5v-2.8M426.22 227v2.8M436.92 280.5v-2.8M436.92 227v2.8M447.63 280.5v-2.8M447.63 227v2.8M458.34 280.5v-5M458.34 227v5M469.05 280.5v-2.8M469.05 227v2.8M479.76 280.5v-2.8M479.76 227v2.8M490.46 280.5v-2.8M490.46 227v2.8M501.17 280.5v-2.8M501.17 227v2.8M511.88 280.5v-5M511.88 227v5M522.59 280.5v-2.8M522.59 227v2.8M533.3 280.5v-2.8M533.3 227v2.8M544 280.5v-2.8M544 227v2.8M554.71 280.5v-2.8M554.71 227v2.8M565.42 280.5v-5M565.42 227v5M576.13 280.5v-2.8M576.13 227v2.8M586.84 280.5v-2.8M586.84 227v2.8M597.54 280.5v-2.8M597.54 227v2.8M608.25 280.5v-2.8M608.25 227v2.8M618.96 280.5v-5M618.96 227v5M629.67 280.5v-2.8M629.67 227v2.8M640.38 280.5v-2.8M640.38 227v2.8M651.08 280.5v-2.8M651.08 227v2.8M661.79 280.5v-2.8M661.79 227v2.8M672.5 280.5v-5M672.5 227v5M683.21 280.5v-2.8M683.21 227v2.8M404.8 275.51h6M682.5 275.51h-6M404.8 264.63h6M682.5 264.63h-6M404.8 253.75h6M682.5 253.75h-6M404.8 242.87h6M682.5 242.87h-6M404.8 231.99h6M682.5 231.99h-6" stroke="#000" stroke-width="1" fill="none"/>
<rect x="404.8" y="227" width="277.7" height="53.5" fill="none" stroke="#000" stroke-width="1"/>
<text x="400.2" y="204.96" text-anchor="end" class="lab">10</text>
<text x="395.6" y="181.44" text-anchor="end" class="lab">10</text>
<text x="395.5" y="175.14" class="sup">2</text>
<text x="395.6" y="157.52" text-anchor="end" class="lab">10</text>
<text x="395.5" y="151.22" class="sup">3</text>
<text x="395.6" y="133.6" text-anchor="end" class="lab">10</text>
<text x="395.5" y="127.3" class="sup">4</text>
<text x="395.6" y="109.68" text-anchor="end" class="lab">10</text>
<text x="395.5" y="103.38" class="sup">5</text>
<text x="395.6" y="85.76" text-anchor="end" class="lab">10</text>
<text x="395.5" y="79.46" class="sup">6</text>
<text x="395.6" y="61.84" text-anchor="end" class="lab">10</text>
<text x="395.5" y="55.54" class="sup">7</text>
<text x="395.6" y="37.92" text-anchor="end" class="lab">10</text>
<text x="395.5" y="31.62" class="sup">8</text>
<text x="395.6" y="14" text-anchor="end" class="lab">10</text>
<text x="395.5" y="7.7" class="sup">9</text>
<text x="400.2" y="236.99" text-anchor="end" class="lab">1.4</text>
<text x="400.2" y="247.87" text-anchor="end" class="lab">1.2</text>
<text x="400.2" y="258.75" text-anchor="end" class="lab">1</text>
<text x="400.2" y="269.63" text-anchor="end" class="lab">0.8</text>
<text x="400.2" y="280.51" text-anchor="end" class="lab">0.6</text>
<text x="404.8" y="293" text-anchor="middle" class="lab">50</text>
<text x="458.34" y="293" text-anchor="middle" class="lab">100</text>
<text x="511.88" y="293" text-anchor="middle" class="lab">150</text>
<text x="565.42" y="293" text-anchor="middle" class="lab">200</text>
<text x="618.96" y="293" text-anchor="middle" class="lab">250</text>
<text x="672.5" y="293" text-anchor="middle" class="lab">300</text>
<text transform="translate(369.7,92.6) rotate(-90)" class="ytit">Events / 10 GeV</text>
<text transform="translate(370.3,288.4) rotate(-90) scale(1,0.92)" class="rtit">Data/MC</text>
<text x="590.5" y="312.5" class="tit">TST</text>
<text x="619.2" y="312.5" class="tit">E</text>
<text x="628" y="316.6" class="ssT">T</text>
<text x="627.5" y="306.0" class="ss">miss</text>
<text x="649" y="312.5" class="tit">[GeV]</text>
<text x="531.6" y="317.5" class="pl">(b)</text>
<text x="415.4" y="19.8" class="atl">ATLAS</text>
<path d="M415.6 30.2 L416.9 29.4 L418.6 36.6 L421 25.4 L427 25.4" fill="none" stroke="#111" stroke-width="1.05" stroke-linejoin="miter"/>
<text x="421.5" y="36.2" class="leg2">s = 8 TeV, 20.3 fb</text>
<text x="516.4" y="30.0" class="ss2">-1</text>
<line x1="591.2" y1="18.7" x2="608.2" y2="18.7" stroke="#000" stroke-width="1.2"/>
<circle cx="600" cy="18.7" r="3.2" fill="#000"/>
<rect x="591.2" y="29.4" width="18" height="11.4" fill="url(#hatchL)"/>
<line x1="591.2" y1="35.2" x2="609.2" y2="35.2" stroke="#000" stroke-width="1.5"/>
<rect x="591.2" y="44.9" width="18.4" height="11.7" fill="#45e4e4"/>
<rect x="591.2" y="61.1" width="18.4" height="11.7" fill="#8f5b93"/>
<rect x="591.2" y="77.3" width="18.4" height="11.7" fill="#c9f99b"/>
<rect x="591.2" y="93.4" width="18.4" height="11.7" fill="#6696f4"/>
<text x="612.2" y="22.2" class="leg">Data 2012</text>
<text x="612.2" y="38.2" class="leg">Syst. Unc.</text>
<text x="612.2" y="54.3" class="leg">W</text>
<path d="M625.3 51.1 h12.2 M634.8 48.6 l2.9 2.5 l-2.9 2.5" fill="none" stroke="#222" stroke-width="0.95"/>
<text x="642.4" y="54.3" class="leg">e&#957;</text>
<text x="612.2" y="70.3" class="leg">Z</text>
<path d="M621.3 67.0 h12.2 M630.8 64.5 l2.9 2.5 l-2.9 2.5" fill="none" stroke="#222" stroke-width="0.95"/>
<text x="638.4" y="70.3" class="leg">ee</text>
<text x="612.2" y="86.4" class="leg">tt</text>
<path d="M616.2 75.3 h3.6" stroke="#222" stroke-width="0.9"/>
<text x="612.2" y="102.0" class="leg">VV</text>
</svg>
</body></html>
